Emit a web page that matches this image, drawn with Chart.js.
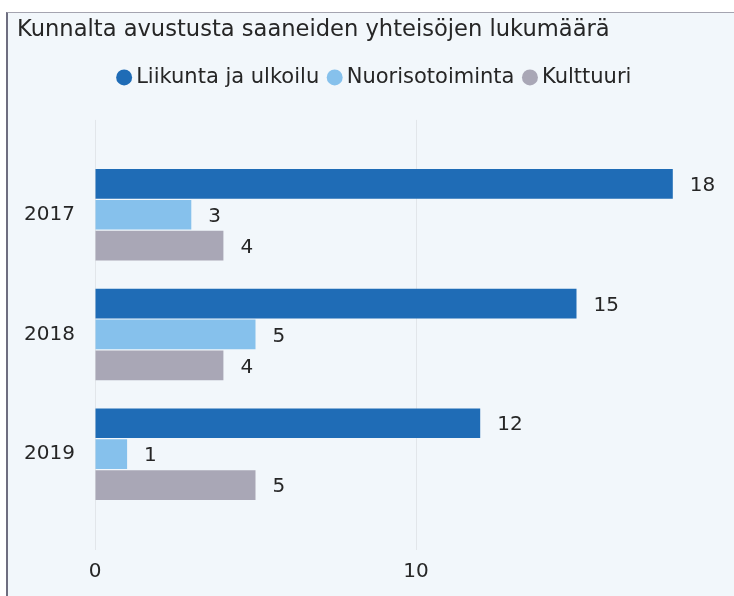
<!DOCTYPE html>
<html>
<head>
<meta charset="utf-8">
<script src="https://cdn.jsdelivr.net/npm/chart.js@4.4.0/dist/chart.umd.min.js"></script>
<style>
    html, body { margin: 0; padding: 0; background: #ffffff; overflow: hidden; width: 734px; height: 596px; }
    #box {
        position: absolute; left: 6px; top: 12px; width: 800px; height: 700px;
        border-left: 2px solid #6e6e80; border-top: 1px solid #a4a4b0;
        background: #f2f7fb;
    }
    #wrap { position: absolute; left: 0; top: 0; width: 760px; height: 596px; }
</style>
</head>
<body>
<div id="box"></div>
<div id="wrap"><canvas id="chart" width="760" height="596"></canvas></div>
<script>
// Data
const chartTitle = "Kunnalta avustusta saaneiden yhteisöjen lukumäärä";
const years = ["2017", "2018", "2019"];
const seriesNames = ["Liikunta ja ulkoilu", "Nuorisotoiminta", "Kulttuuri"];
const liikunta = [18, 15, 12];
const nuoriso = [3, 5, 1];
const kulttuuri = [4, 4, 5];
const xTicks = [0, 10];

const colors = ["#1f6cb6", "#86c1ec", "#a9a7b6"];
const textColor = "#262626";
const gridColor = "#e2e6ea";
const fontFamily = "'DejaVu Sans', sans-serif";

// Arvot palkkien perään
const valueLabels = {
    id: "valueLabels",
    afterDatasetsDraw(chart) {
        const ctx = chart.ctx;
        ctx.save();
        ctx.font = "20px " + fontFamily;
        ctx.fillStyle = textColor;
        ctx.textAlign = "left";
        ctx.textBaseline = "middle";
        chart.data.datasets.forEach((ds, i) => {
            chart.getDatasetMeta(i).data.forEach((bar, j) => {
                ctx.fillText(String(ds.data[j]), bar.x + 17, bar.y + 2);
            });
        });
        ctx.restore();
    }
};

const ctx = document.getElementById("chart").getContext("2d");
new Chart(ctx, {
    type: "bar",
    data: {
        labels: years,
        datasets: [
            { label: seriesNames[0], data: liikunta, backgroundColor: colors[0] },
            { label: seriesNames[1], data: nuoriso, backgroundColor: colors[1] },
            { label: seriesNames[2], data: kulttuuri, backgroundColor: colors[2] }
        ]
    },
    options: {
        indexAxis: "y",
        responsive: false,
        animation: false,
        categoryPercentage: 0.775,
        barPercentage: 0.96,
        layout: { padding: { left: 17, right: 23, top: 4, bottom: 12 } },
        plugins: {
            title: {
                display: true,
                text: chartTitle,
                align: "start",
                color: textColor,
                font: { family: fontFamily, size: 22.6, weight: "normal" },
                padding: { top: 12.6, bottom: 9.2 }
            },
            legend: {
                position: "top",
                labels: {
                    usePointStyle: true,
                    pointStyle: "circle",
                    boxWidth: 3,
                    boxHeight: 11.3,
                    padding: 14,
                    color: textColor,
                    font: { family: fontFamily, size: 21 }
                }
            },
            tooltip: { enabled: false }
        },
        scales: {
            y: {
                grid: { display: false },
                border: { display: false },
                ticks: {
                    color: textColor,
                    font: { family: fontFamily, size: 20 },
                    padding: 12
                },
                afterFit(scale) { scale.width = 78; }
            },
            x: {
                min: 0,
                max: 20,
                position: "bottom",
                border: { display: false },
                grid: { color: gridColor, tickLength: 36, tickColor: gridColor },
                ticks: {
                    color: textColor,
                    font: { family: fontFamily, size: 20 },
                    padding: 10
                },
                afterBuildTicks(scale) { scale.ticks = xTicks.map(v => ({ value: v })); },
                afterFit(scale) { scale.height = 70; }
            },
            x2: {
                min: 0,
                max: 20,
                position: "top",
                border: { display: false },
                grid: { drawOnChartArea: false, tickLength: 35, tickColor: gridColor },
                ticks: { display: false },
                afterBuildTicks(scale) { scale.ticks = xTicks.map(v => ({ value: v })); },
                afterFit(scale) { scale.height = 57; }
            }
        }
    },
    plugins: [valueLabels]
});
</script>
</body>
</html>
